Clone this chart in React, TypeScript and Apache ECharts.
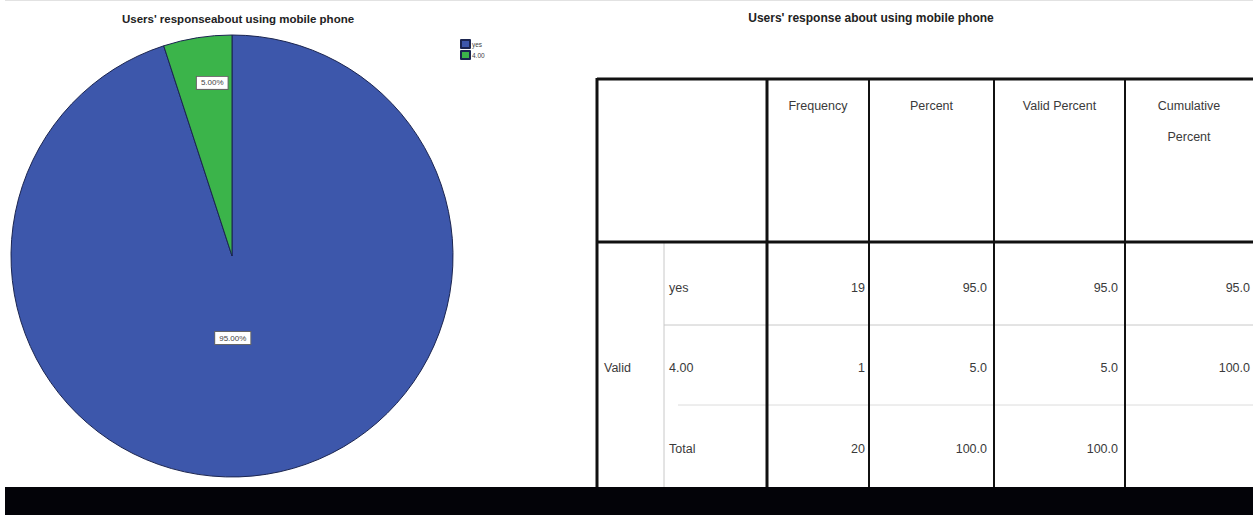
import React, { useEffect, useRef } from "react";
import * as echarts from "echarts";

// ---- data ----
const categories = ["yes", "4.00"];
const frequency = [19, 1];
const totalFrequency = 20;
const percent = [95.0, 5.0, 100.0];
const validPercent = [95.0, 5.0, 100.0];
const cumulativePercent: (number | null)[] = [95.0, 100.0, null];
const rowLabels = ["yes", "4.00", "Total"];
const groupLabel = "Valid";
const headerLabels = ["Frequency", "Percent", "Valid Percent", "Cumulative\nPercent"];
const pieTitle = "Users' responseabout using mobile phone";
const tableTitle = "Users' response about using mobile phone";

const pieColors = ["#3d57ab", "#3bb44a"];

export default function App() {
  const ref = useRef<HTMLDivElement>(null);
  useEffect(() => {
    document.body.style.margin = "0";
    const chart = echarts.init(ref.current!, undefined, { renderer: "svg" });

    // table geometry
    const colX = [597, 664, 767, 869, 994, 1125, 1253];
    const top = 79;
    const headBottom = 242;
    const rowY = [242, 325, 405, 487];
    const font = "Liberation Sans, Arial, sans-serif";
    const txtColor = "#3a3a3a";

    const g: any[] = [];
    // light grid lines
    g.push({ type: "line", shape: { x1: colX[1], y1: headBottom, x2: colX[1], y2: 487 }, style: { stroke: "#c8c8c8", lineWidth: 1 } });
    g.push({ type: "line", shape: { x1: colX[1], y1: rowY[1], x2: 1253, y2: rowY[1] }, style: { stroke: "#c8c8c8", lineWidth: 1 } });
    g.push({ type: "line", shape: { x1: colX[1] + 14, y1: rowY[2], x2: 1253, y2: rowY[2] }, style: { stroke: "#dcdcdc", lineWidth: 1 } });
    // heavy lines
    const heavy = (x1: number, y1: number, x2: number, y2: number, w: number) =>
      g.push({ type: "line", shape: { x1, y1, x2, y2 }, style: { stroke: "#111", lineWidth: w } });
    heavy(597, top, 1253, top, 3);
    heavy(597, headBottom, 1253, headBottom, 3);
    heavy(597, top - 1, 597, 487, 3);
    heavy(colX[2], top, colX[2], 487, 3);
    heavy(colX[3], top, colX[3], 487, 2);
    heavy(colX[4], top, colX[4], 487, 2);
    heavy(colX[5], top, colX[5], 487, 2);

    // header texts
    headerLabels.forEach((h, i) => {
      const cx = (colX[i + 2] + colX[i + 3]) / 2;
      g.push({
        type: "text",
        x: cx,
        y: 90,
        style: { text: h, font: `12.5px ${font}`, fill: txtColor, textAlign: "center", textVerticalAlign: "top", lineHeight: 31 },
      });
    });

    const rowCenters = [288, 368, 449];
    const fmt = (v: number | null) => (v == null ? "" : v.toFixed(1));
    const freqAll = [...frequency, totalFrequency];
    rowLabels.forEach((r, i) => {
      const y = rowCenters[i];
      g.push({ type: "text", x: 669, y, style: { text: r, font: `12.5px ${font}`, fill: txtColor, textAlign: "left", textVerticalAlign: "middle" } });
      const vals = [String(freqAll[i]), fmt(percent[i]), fmt(validPercent[i]), fmt(cumulativePercent[i])];
      const rights = [colX[3] - 4, colX[4] - 7, colX[5] - 7, 1250];
      vals.forEach((v, j) => {
        g.push({ type: "text", x: rights[j], y, style: { text: v, font: `12.5px ${font}`, fill: txtColor, textAlign: "right", textVerticalAlign: "middle" } });
      });
    });
    g.push({ type: "text", x: 604, y: rowCenters[1], style: { text: groupLabel, font: `12.5px ${font}`, fill: txtColor, textAlign: "left", textVerticalAlign: "middle" } });

    // top faint line and bottom black band
    g.push({ type: "rect", shape: { x: 5, y: 0, width: 1248, height: 1 }, style: { fill: "#e2e2e2" } });
    g.push({ type: "rect", shape: { x: 5, y: 487, width: 1248, height: 28 }, style: { fill: "#030308" }, z: 100 });

    const labelOffsets: [number, number][] = [[-17, -30], [-2, -61]];

    chart.setOption({
      animation: false,
      backgroundColor: "#ffffff",
      title: [
        {
          text: pieTitle,
          left: 233,
          top: 8,
          textAlign: "center",
          textStyle: { fontFamily: font, fontSize: 11.5, fontWeight: "bold", color: "#222" },
        },
        {
          text: tableTitle,
          left: 866,
          top: 7,
          textAlign: "center",
          textStyle: { fontFamily: font, fontSize: 12, fontWeight: "bold", color: "#222" },
        },
      ],
      legend: {
        orient: "vertical",
        left: 455,
        top: 34,
        itemWidth: 9,
        itemHeight: 8,
        itemGap: 1,
        icon: "rect",
        textStyle: { fontSize: 6.5, color: "#444", fontFamily: font, padding: [0, 0, 0, -3] },
        data: categories,
      },
      series: [
        {
          type: "pie",
          center: [232, 256],
          radius: 221,
          startAngle: 90,
          clockwise: true,
          color: pieColors,
          itemStyle: { borderColor: "#1b2550", borderWidth: 1 },
          emphasis: { disabled: true },
          labelLine: { show: false },
          label: {
            show: true,
            position: "inside",
            formatter: (p: any) => p.percent.toFixed(2) + "%",
            fontSize: 8,
            fontFamily: font,
            color: "#444",
            backgroundColor: "#ffffff",
            borderColor: "#666",
            borderWidth: 1,
            padding: [2, 4],
          },
          data: categories.map((c, i) => ({
            name: c,
            value: frequency[i],
            label: { offset: labelOffsets[i] },
          })),
        },
      ],
      graphic: g,
    });
    return () => chart.dispose();
  }, []);
  return <div ref={ref} style={{ width: 1253, height: 515 }} />;
}
